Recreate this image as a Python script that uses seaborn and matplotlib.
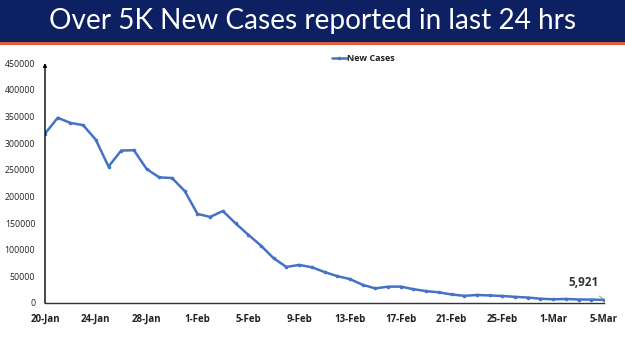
import matplotlib
matplotlib.use("Agg")
import matplotlib.pyplot as plt
import seaborn as sns
import pandas as pd
from matplotlib.patches import Rectangle

# ---- data ----
dates = ["20-Jan", "21-Jan", "22-Jan", "23-Jan", "24-Jan", "25-Jan", "26-Jan", "27-Jan",
         "28-Jan", "29-Jan", "30-Jan", "31-Jan", "1-Feb", "2-Feb", "3-Feb", "4-Feb",
         "5-Feb", "6-Feb", "7-Feb", "8-Feb", "9-Feb", "10-Feb", "11-Feb", "12-Feb",
         "13-Feb", "14-Feb", "15-Feb", "16-Feb", "17-Feb", "18-Feb", "19-Feb", "20-Feb",
         "21-Feb", "22-Feb", "23-Feb", "24-Feb", "25-Feb", "26-Feb", "27-Feb", "28-Feb",
         "1-Mar", "2-Mar", "3-Mar", "4-Mar", "5-Mar"]
new_cases = [317532, 347254, 337704, 333533, 306064, 255874, 285914, 286384,
             251209, 235532, 234281, 209918, 167059, 161386, 172433, 149394,
             127952, 107474, 83876, 67597, 71365, 67084, 58077, 50407,
             44877, 34113, 27409, 30615, 30757, 25920, 22270, 19968,
             16051, 13405, 15102, 14148, 13166, 11499, 10273, 8013,
             6915, 7554, 6561, 6396, 5921]
y_ticks = [0, 50000, 100000, 150000, 200000, 250000, 300000, 350000, 400000, 450000]
title = "Over 5K New Cases reported in last 24 hrs"
series_name = "New Cases"
last_label = "5,921"

df = pd.DataFrame({"idx": range(len(dates)), "date": dates, series_name: new_cases})

sns.set_theme(style="white")
plt.rcParams["font.family"] = ["Open Sans", "DejaVu Sans"]

fig = plt.figure(figsize=(6.25, 3.51), dpi=100)
fig.patch.set_facecolor("white")

# banner
fig.patches.append(Rectangle((0, 1 - 42 / 351), 1, 42 / 351, transform=fig.transFigure,
                             facecolor="#0d2162", edgecolor="none", zorder=0))
fig.patches.append(Rectangle((0, 1 - 44.5 / 351), 1, 2.5 / 351, transform=fig.transFigure,
                             facecolor="#e0603a", edgecolor="none", zorder=0))
fig.text(0.5, 1 - 21 / 351, title, color="white", fontsize=20.2, ha="center", va="center",
         family=["Lato", "DejaVu Sans"])

ax = fig.add_axes([45 / 625, 1 - 303 / 351, (604 - 45) / 625, (303 - 63) / 351])
sns.lineplot(data=df, x="idx", y=series_name, ax=ax, color="#4472C4", linewidth=1.8,
             marker="o", markersize=2.6, markeredgewidth=0, label=series_name)

ax.set_xlim(0, len(dates) - 1)
ax.set_ylim(0, 450000)
ax.set_yticks(y_ticks)
ax.set_yticklabels([str(v) for v in y_ticks], fontsize=6.3, color="#222222")
xt = list(range(0, len(dates), 4))
ax.set_xticks(xt)
ax.set_xticklabels([dates[i] for i in xt], fontsize=7, fontweight="bold", color="#222222")
ax.set_xlabel("")
ax.set_ylabel("")
ax.tick_params(axis="x", length=3, width=0.8, color="#444444", direction="out", pad=5)
ax.tick_params(axis="y", length=0, pad=7)
for s in ["top", "right", "left"]:
    ax.spines[s].set_visible(False)
ax.spines["bottom"].set_color("#333333")
ax.spines["bottom"].set_linewidth(1.0)
ax.annotate("", xy=(0, 1.0), xytext=(0, 0), xycoords="axes fraction",
            arrowprops=dict(arrowstyle="-|>", lw=1.0, color="black", mutation_scale=5,
                            shrinkA=0, shrinkB=0))
ax.grid(False)

leg = ax.legend(loc="upper center", bbox_to_anchor=(0.57, 1.07), frameon=False,
                fontsize=6.5, handlelength=1.6, handletextpad=0.1)
for t in leg.get_texts():
    t.set_fontweight("bold")
    t.set_color("#222222")

last = len(dates) - 1
ax.annotate(last_label, xy=(last, new_cases[-1]), xytext=(last - 1.6, 38000),
            ha="center", va="center", fontsize=8.5, fontweight="bold", color="#333333",
            arrowprops=dict(arrowstyle="-", color="#999999", lw=0.7, shrinkA=4, shrinkB=1,
                            relpos=(0.75, 0.0)))

fig.savefig("out.png", dpi=100)
